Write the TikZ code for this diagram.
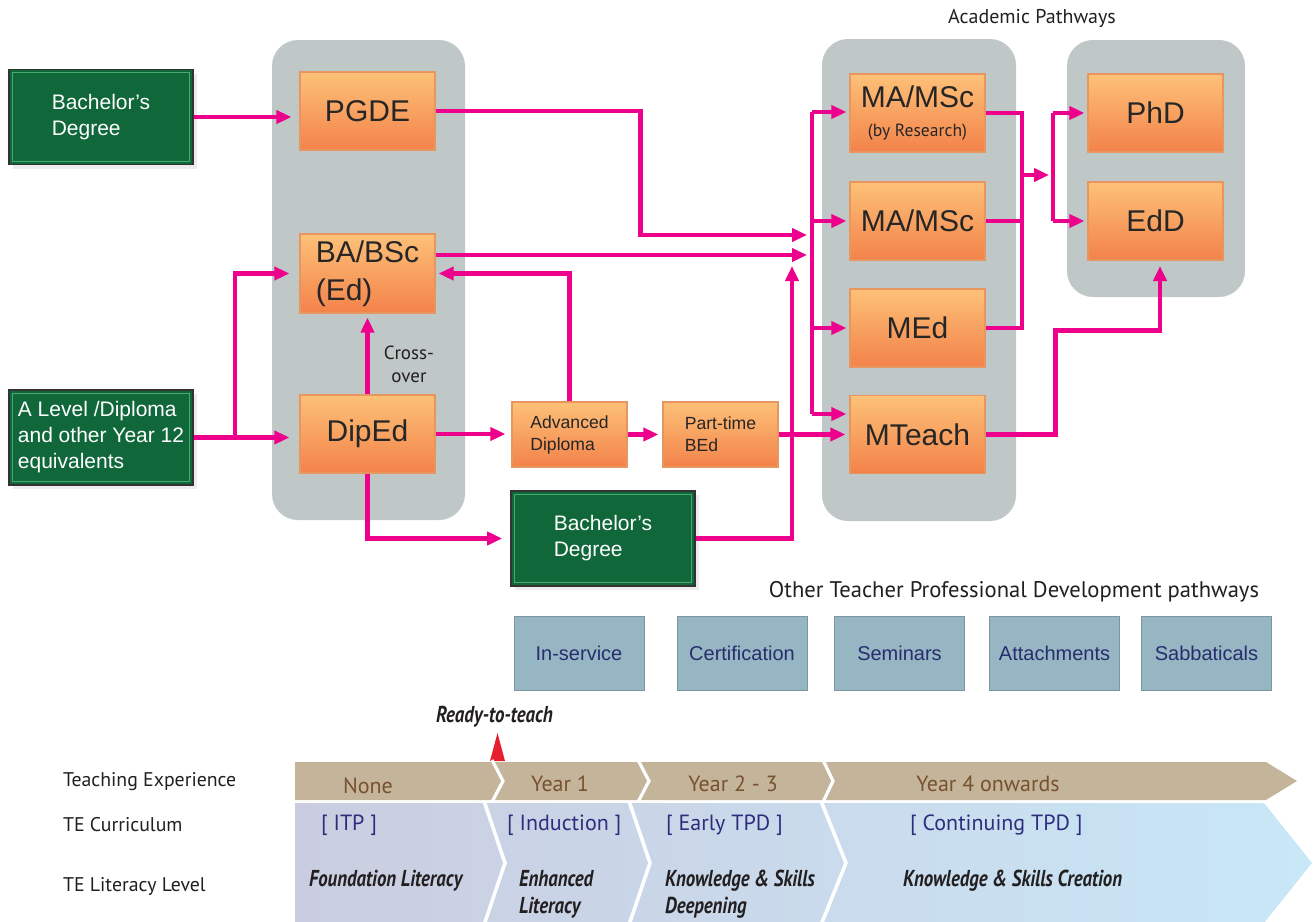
\documentclass[tikz,border=0pt]{standalone}
\usepackage{fontspec}
\setmainfont{Liberation Sans}
\newfontfamily\myriad{PT Sans}
\newfontfamily\myriadcond[FakeStretch=0.82]{PT Sans}
\usetikzlibrary{arrows.meta,shadows}

\definecolor{pathpink}{RGB}{236,0,140}
\definecolor{panelgray}{RGB}{191,199,199}
\definecolor{boxtop}{RGB}{253,193,120}
\definecolor{boxbottom}{RGB}{243,130,74}
\definecolor{boxedge}{RGB}{232,150,95}
\definecolor{degreegreen}{RGB}{16,103,58}
\definecolor{degreeline}{RGB}{70,170,110}
\definecolor{pdblue}{RGB}{149,182,194}
\definecolor{pdedge}{RGB}{125,150,160}
\definecolor{pdtext}{RGB}{40,45,110}
\definecolor{bandtan}{RGB}{195,180,154}
\definecolor{bandtext}{RGB}{120,82,48}
\definecolor{bandleft}{RGB}{202,205,224}
\definecolor{bandmid}{RGB}{189,204,224}
\definecolor{bandright}{RGB}{200,231,247}
\definecolor{curtext}{RGB}{46,45,125}
\definecolor{readyred}{RGB}{230,30,45}
\definecolor{labeltext}{RGB}{35,31,32}

\begin{document}
\begin{tikzpicture}[x=0.5pt, y=-0.5pt,
    panel/.style={fill=panelgray, rounded corners=13pt},
    course/.style={draw=boxedge, line width=0.6pt, top color=boxtop, bottom color=boxbottom,
        text=black!85, inner sep=0pt, font=\fontsize{15}{19}\selectfont},
    small course/.style={course, align=left, font=\fontsize{8.8}{11}\selectfont,
        minimum width=57.5pt, minimum height=32.5pt},
    degree/.style={fill=degreegreen, draw=black!80, line width=0.8pt, text=white,
        align=left, inner sep=0pt, minimum width=92pt, minimum height=47.5pt,
        font=\fontsize{10.5}{13}\selectfont,
        drop shadow={opacity=0.15, shadow xshift=2pt, shadow yshift=-2pt},
        path picture={\draw[degreeline, line width=0.6pt]
            ([shift={(1.6pt,-1.6pt)}]path picture bounding box.north west) rectangle
            ([shift={(-1.6pt,1.6pt)}]path picture bounding box.south east);}},
    pdbox/.style={fill=pdblue, draw=pdedge, line width=0.5pt, text=pdtext,
        minimum width=65pt, minimum height=37pt, font=\fontsize{10}{12}\selectfont},
    pinkline/.style={draw=pathpink, line width=2.3pt},
    flow/.style={pinkline, -{Triangle[length=7.5pt,width=6.5pt]}},
    heading/.style={text=labeltext, font=\myriad\fontsize{10}{12}\selectfont},
    rowlabel/.style={heading, anchor=west, font=\myriad\fontsize{9.9}{12}\selectfont},
    yeartext/.style={text=bandtext, font=\myriad\fontsize{11}{13}\selectfont},
    curtag/.style={text=curtext, anchor=west, font=\myriad\fontsize{11}{13}\selectfont},
    literacy/.style={text=labeltext, anchor=west, align=left,
        font=\myriadcond\bfseries\itshape\fontsize{11.5}{13.5}\selectfont}]

    \useasboundingbox (0,0) rectangle (1314,922);

    % Grey panels
    \fill[panel] (272,40) rectangle (465,520);
    \fill[panel] (822,39) rectangle (1016,521);
    \fill[panel] (1067,40) rectangle (1245,297);
    \node[heading] (acadtitle) at (1032,18) {Academic Pathways};

    % Entry qualifications
    \node[degree] (bach1) at (101,117) {Bachelor’s\\Degree};
    \node[degree] (alevel) at (101,437.5) {A Level /Diploma\\and other Year 12\\equivalents};
    \node[degree] (bach2) at (603,538.5) {Bachelor’s\\Degree};

    % Initial teacher preparation
    \node[course, minimum width=67.5pt, minimum height=39pt] (pgde) at (367.5,111) {PGDE};
    \node[course, align=left, minimum width=67.5pt, minimum height=39.5pt] (babsc) at (367.5,273.5) {BA/BSc\\(Ed)};
    \node[course, minimum width=67.5pt, minimum height=39pt] (diped) at (367.5,434) {DipEd};
    \node[small course] (advdip) at (569.5,434.5) {Advanced\\Diploma};
    \node[small course] (ptbed) at (720.5,434.5) {Part-time\\BEd};
    \node[heading, align=center, font=\myriad\fontsize{9.5}{11.5}\selectfont] (crosslbl) at (409,364) {Cross-\\over};

    % Masters and doctorates
    \node[course, align=center, minimum width=67.5pt, minimum height=39pt] (mares) at (917.5,113)
        {MA/MSc\\[-4.8pt]{\myriad\fontsize{8.8}{9}\selectfont (by Research)}};
    \node[course, minimum width=67.5pt, minimum height=39pt] (mamsc) at (917.5,221) {MA/MSc};
    \node[course, minimum width=67.5pt, minimum height=39pt] (med) at (917.5,328) {MEd};
    \node[course, minimum width=67.5pt, minimum height=39pt] (mteach) at (917.5,434.5) {MTeach};
    \node[course, minimum width=67.5pt, minimum height=39pt] (phd) at (1155.5,113) {PhD};
    \node[course, minimum width=67.5pt, minimum height=39pt] (edd) at (1155.5,221) {EdD};

    % Junctions
    \coordinate (split) at (235,437.5);
    \coordinate (in1) at (807,235);
    \coordinate (in2) at (807,255);
    \coordinate (upin) at (792,266);
    \coordinate (lbus1) at (812,112);
    \coordinate (lbus2) at (812,221);
    \coordinate (lbus3) at (812,328);
    \coordinate (lbus4) at (812,414);
    \coordinate (rbus) at (1022,175);
    \coordinate (rtip) at (1049,175);
    \coordinate (pbus1) at (1053,113);
    \coordinate (pbus2) at (1053,221);
    \coordinate (eddin) at (1160,266);

    % Pathway arrows
    \draw[flow, shorten >=4pt] (bach1.east) -- (bach1.east -| pgde.west);
    \draw[flow, shorten >=5pt] (alevel.east) -- (alevel.east -| diped.west);
    \draw[flow, shorten >=5pt] (split) |- (babsc.west);
    \draw[flow, shorten >=2pt] (diped.north) -- (babsc.south);
    \draw[flow] (pgde.east) -- ++(205,0) |- (in1);
    \draw[flow] (babsc.east |- in2) -- (in2);
    \draw[flow, shorten >=1.5pt] (advdip.north) |- (babsc.east);
    \draw[flow, shorten >=3pt] (diped.east) -- (diped.east -| advdip.west);
    \draw[flow, shorten >=2pt] (advdip.east) -- (ptbed.west);
    \draw[flow, shorten >=2pt] (ptbed.east) -- (mteach.west);
    \draw[flow, shorten >=4pt] (diped.south) |- (bach2.west);
    \draw[flow] (bach2.east) -| (upin);

    \draw[pinkline] (lbus1) -- (lbus4);
    \draw[flow, shorten >=1.5pt] (lbus1) -- (lbus1 -| mares.west);
    \draw[flow, shorten >=1.5pt] (lbus2) -- (mamsc.west);
    \draw[flow, shorten >=1.5pt] (lbus3) -- (med.west);
    \draw[flow, shorten >=1.5pt] (lbus4) -- (lbus4 -| mteach.west);

    \draw[pinkline] (mares.east) -| (rbus) |- (med.east);
    \draw[pinkline] (mamsc.east) -- (mamsc.east -| rbus);
    \draw[flow] (rbus) -- (rtip);
    \draw[pinkline] (pbus1) -- (pbus2);
    \draw[flow, shorten >=1.5pt] (pbus1) -- (phd.west);
    \draw[flow, shorten >=1.5pt] (pbus2) -- (edd.west);
    \draw[flow] (mteach.east) -- ++(70,0) -- ++(0,-104) -| (eddin);

    % Other TPD pathways
    \node[heading, font=\myriad\fontsize{11.3}{13}\selectfont] (othertitle) at (1014,592) {Other Teacher Professional Development pathways};
    \node[pdbox] (inservice) at (579,653) {In-service};
    \node[pdbox] (certif) at (742,653) {Certification};
    \node[pdbox] (seminars) at (899.5,653) {Seminars};
    \node[pdbox] (attach) at (1054.5,653) {Attachments};
    \node[pdbox] (sabbat) at (1206.5,653) {Sabbaticals};

    % Ready-to-teach marker
    \node[literacy, anchor=center] (ready) at (494.5,717) {Ready-to-teach};
    \fill[readyred] (490,761) -- (505,761) -- (497.5,733) -- cycle;

    % Teaching experience band
    \fill[bandtan] (295,762) -- (1266,762) -- (1297,781) -- (1266,800) -- (295,800) -- cycle;
    \draw[white, line width=1.6pt] (492,760) -- (503,781) -- (492,802);
    \draw[white, line width=1.6pt] (638,760) -- (649,781) -- (638,802);
    \draw[white, line width=1.6pt] (823,760) -- (833,781) -- (823,802);
    \node[yeartext] (none) at (368,786) {None};
    \node[yeartext] (year1) at (560,784) {Year 1};
    \node[yeartext] (year23) at (733,784) {Year 2 - 3};
    \node[yeartext] (year4) at (988,784) {Year 4 onwards};

    % Curriculum and literacy band
    \shade[left color=bandleft, middle color=bandmid, right color=bandright]
        (295,803) -- (1264,803) -- (1312,863) -- (1264,923) -- (295,923) -- cycle;
    \draw[white, line width=1.8pt] (484,801) -- (505,863) -- (484,925);
    \draw[white, line width=1.8pt] (629,801) -- (650,863) -- (629,925);
    \draw[white, line width=1.8pt] (821,801) -- (846,863) -- (821,925);
    \node[curtag] (itp) at (314,825) {[ ITP ]};
    \node[curtag] (induct) at (500,825) {[ Induction ]};
    \node[curtag] (early) at (659,825) {[ Early TPD ]};
    \node[curtag] (contin) at (903,825) {[ Continuing TPD ]};
    \node[literacy] (found) at (302,881) {Foundation Literacy};
    \node[literacy] (enh) at (512,894) {Enhanced\\Literacy};
    \node[literacy] (deep) at (658,894) {Knowledge \& Skills\\Deepening};
    \node[literacy] (create) at (896,881) {Knowledge \& Skills Creation};

    % Row labels
    \node[rowlabel] (rowexp) at (56,782) {Teaching Experience};
    \node[rowlabel] (rowcur) at (56,825) {TE Curriculum};
    \node[rowlabel] (rowlit) at (56,887) {TE Literacy Level};
\end{tikzpicture}
\end{document}
